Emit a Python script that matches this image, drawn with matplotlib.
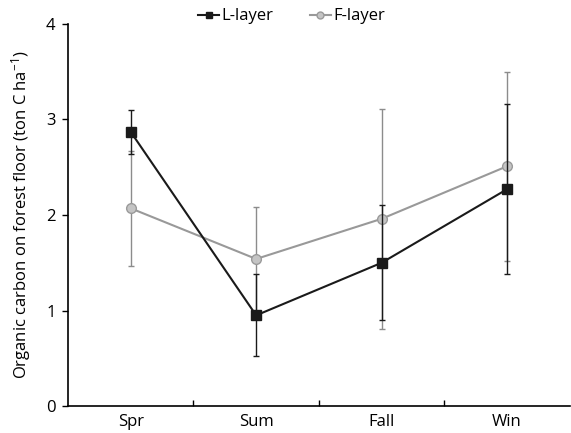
import matplotlib.pyplot as plt
from matplotlib.lines import Line2D
import numpy as np

plt.rcParams['font.family'] = ['Open Sans', 'DejaVu Sans']
plt.rcParams['mathtext.fontset'] = 'custom'
plt.rcParams['mathtext.rm'] = 'Open Sans'
plt.rcParams['mathtext.default'] = 'regular'

seasons = ['Spr', 'Sum', 'Fall', 'Win']
l_layer = [2.87, 0.95, 1.50, 2.27]
l_err = [0.23, 0.43, 0.60, 0.89]
f_layer = [2.07, 1.54, 1.96, 2.51]
f_err = [0.60, 0.54, 1.15, 0.99]

x = np.arange(len(seasons))

fig = plt.figure(figsize=(5.71, 4.33), dpi=100)
ax = fig.add_axes([0.119, 0.062, 0.879, 0.883])

ax.errorbar(x, f_layer, yerr=f_err, color='#999999', ecolor='#8c8c8c', lw=1.5,
            elinewidth=1, capsize=2.5, capthick=1, marker='o', ms=7,
            mfc='#c4c4c4', mec='#9a9a9a', mew=1, zorder=2)
ax.errorbar(x, l_layer, yerr=l_err, color='#1a1a1a', ecolor='#1a1a1a', lw=1.5,
            elinewidth=1, capsize=2.5, capthick=1, marker='s', ms=7,
            mfc='#1a1a1a', mec='#1a1a1a', zorder=3)

ax.set_xlim(-0.5, 3.5)
ax.set_ylim(0, 4)
ax.set_yticks([0, 1, 2, 3, 4])
ax.set_xticks(x)
ax.set_xticklabels(seasons, fontsize=12)
ax.set_xticks([0.5, 1.5, 2.5], minor=True)
ax.tick_params(axis='x', which='major', length=0, pad=6)
ax.tick_params(axis='x', which='minor', direction='in', length=4, width=1)
ax.tick_params(axis='y', direction='out', length=4, width=1, labelsize=12, pad=5)
for s in ['top', 'right']:
    ax.spines[s].set_visible(False)
for s in ['left', 'bottom']:
    ax.spines[s].set_linewidth(1.2)

ax.set_ylabel('Organic carbon on forest floor (ton C ha$^{-1}$)', fontsize=12, labelpad=9)

h_l = Line2D([], [], color='#1a1a1a', lw=1.5, marker='s', ms=5, mfc='#1a1a1a', mec='#1a1a1a')
h_f = Line2D([], [], color='#999999', lw=1.5, marker='o', ms=5, mfc='#c4c4c4', mec='#9a9a9a')
fig.legend([h_l, h_f], ['L-layer', 'F-layer'], loc='center', bbox_to_anchor=(0.51, 0.962),
           ncol=2, frameon=False, fontsize=12, handlelength=1.3, handletextpad=0.1,
           columnspacing=2.2)

fig.savefig('out.png', dpi=100)
